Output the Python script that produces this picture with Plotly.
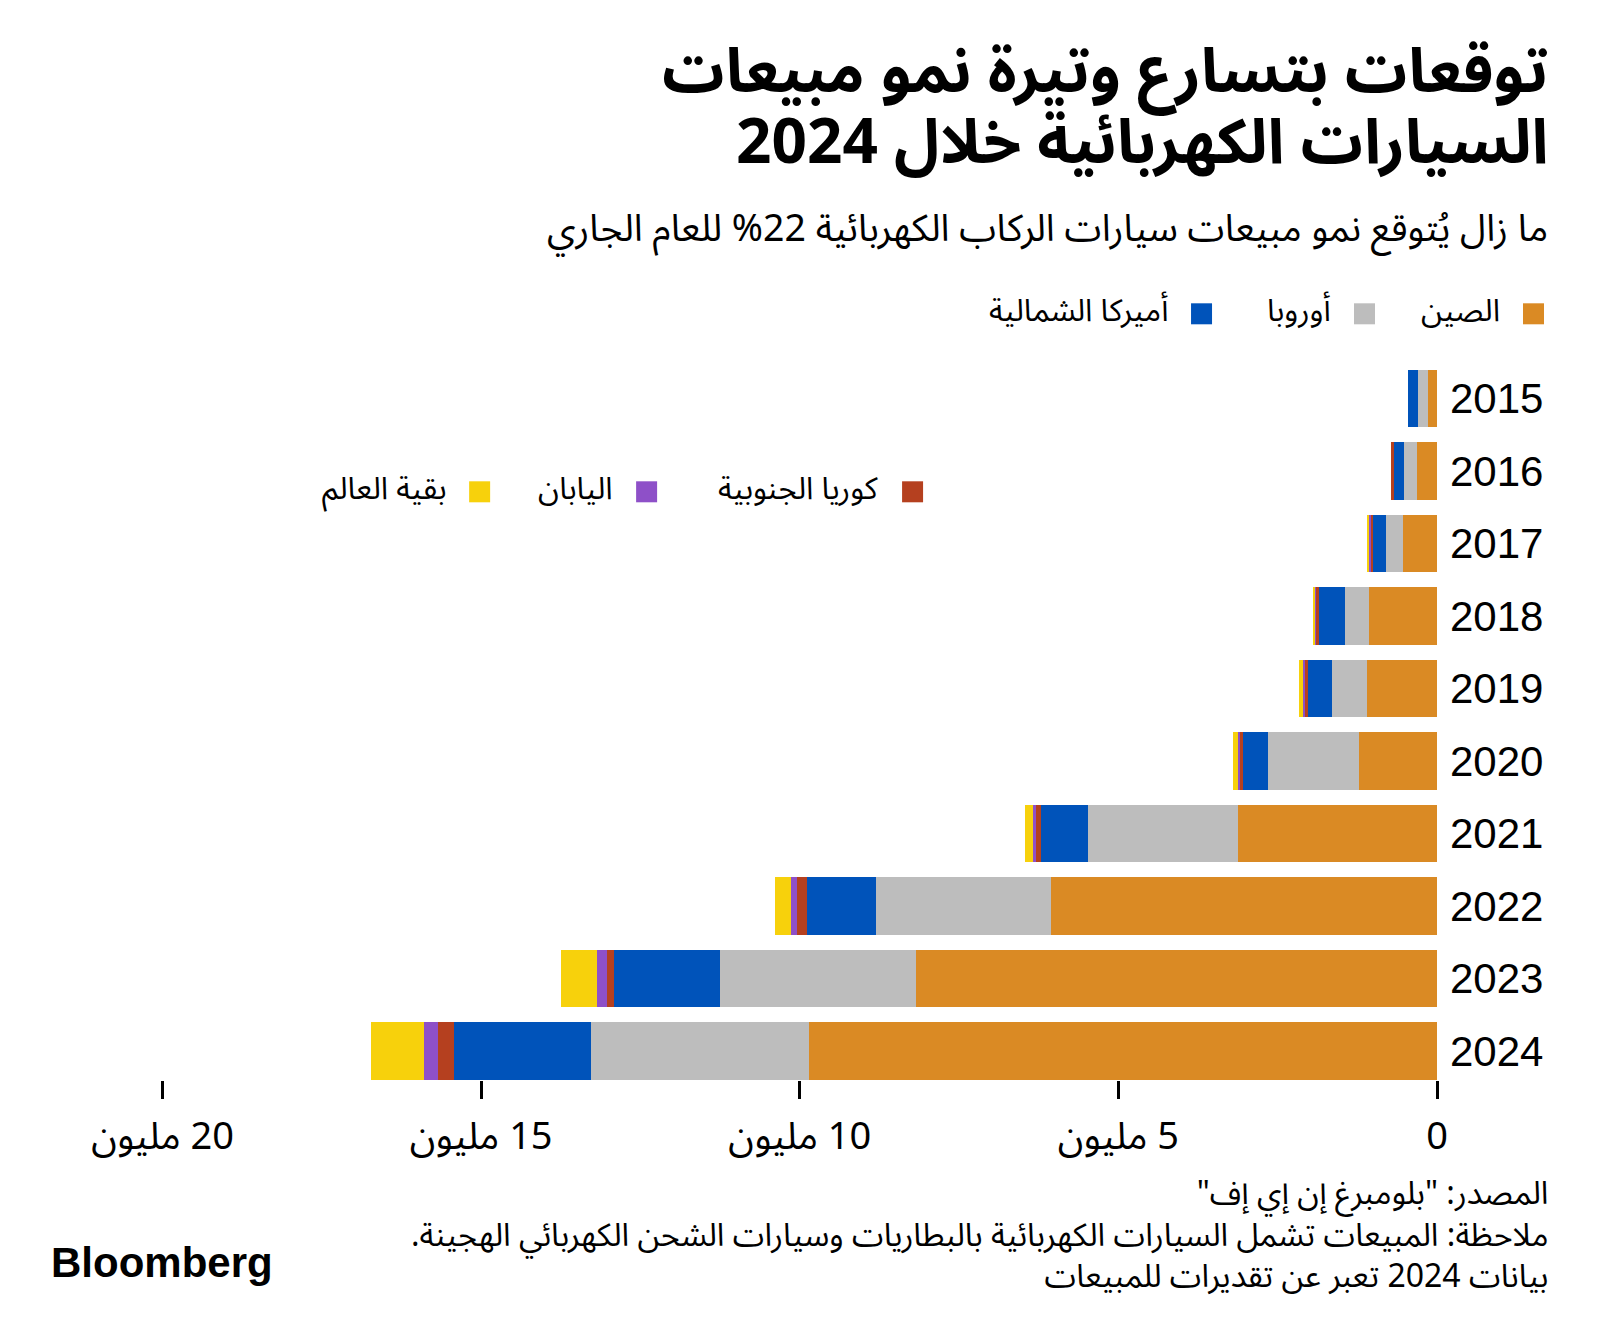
import plotly.graph_objects as go

# ---- data (millions of EV sales) ----
years = ['2015', '2016', '2017', '2018', '2019', '2020', '2021', '2022', '2023', '2024']
china = [0.14, 0.31, 0.53, 1.06, 1.10, 1.22, 3.12, 6.06, 8.18, 9.86]
europe = [0.16, 0.21, 0.27, 0.38, 0.55, 1.43, 2.35, 2.75, 3.08, 3.42]
north_america = [0.16, 0.17, 0.21, 0.41, 0.37, 0.40, 0.74, 1.08, 1.65, 2.15]
south_korea = [0.0, 0.03, 0.02, 0.05, 0.05, 0.04, 0.09, 0.15, 0.12, 0.24]
japan = [0.0, 0.0, 0.05, 0.03, 0.04, 0.04, 0.04, 0.10, 0.16, 0.22]
rest_of_world = [0.0, 0.0, 0.02, 0.02, 0.06, 0.07, 0.12, 0.25, 0.55, 0.84]

series_names = ['الصين', 'أوروبا', 'أميركا الشمالية', 'كوريا الجنوبية', 'اليابان', 'بقية العالم']
series_values = [china, europe, north_america, south_korea, japan, rest_of_world]
series_colors = ['#DA8A24', '#BDBDBD', '#0053BA', '#B5401F', '#8E50C8', '#F7D10C']

x_tickvals = [0, 5, 10, 15, 20]
x_ticktext = ['0', '5 مليون', '10 مليون', '15 مليون', '20 مليون']

title_lines = ['توقعات بتسارع وتيرة نمو مبيعات', 'السيارات الكهربائية خلال 2024']
subtitle = 'ما زال يُتوقع نمو مبيعات سيارات الركاب الكهربائية 22% للعام الجاري'
footer_lines = ['المصدر: "بلومبرغ إن إي إف"',
                'ملاحظة: المبيعات تشمل السيارات الكهربائية بالبطاريات وسيارات الشحن الكهربائي الهجينة.',
                'بيانات 2024 تعبر عن تقديرات للمبيعات']

RLE, PDF = '\u202B', '\u202C'


def rtl(s):
    return RLE + s + PDF


OFF = 8  # default body margin of the html page
W, H = 1600 - 2 * OFF, 1341 - 2 * OFF
R = 1437.5 - OFF
L = R - 21.5 * 63.73
T, B = 355.2 - OFF, 1080.2 - OFF
PW, PH = R - L, B - T


def px(x):  # page pixel -> paper
    return (x - OFF - L) / PW


def py(y):
    return (B - (y - OFF)) / PH


AR_FONT = 'Noto Sans Arabic, DejaVu Sans, sans-serif'
LAT_FONT = 'Liberation Sans, Arial, sans-serif'
TEXT_RIGHT = 1551

fig = go.Figure()
for name, vals, col in zip(series_names, series_values, series_colors):
    fig.add_trace(go.Bar(
        y=years, x=vals, name=name, orientation='h',
        marker=dict(color=col, line=dict(width=0)),
        width=0.79, showlegend=False, hoverinfo='skip'))

fig.update_layout(
    width=W, height=H, barmode='stack',
    paper_bgcolor='white', plot_bgcolor='white',
    margin=dict(l=L, r=W - R, t=T, b=H - B, autoexpand=False),
    xaxis=dict(range=[21.5, 0], tickvals=x_tickvals,
               ticktext=[rtl(t) for t in x_ticktext],
               ticks='outside', ticklen=18, tickwidth=3, tickcolor='#000',
               showgrid=False, zeroline=False, showline=False,
               ticklabelstandoff=4,
               tickfont=dict(family=AR_FONT, size=38, color='#000')),
    yaxis=dict(type='category', categoryorder='array', categoryarray=years,
               range=[9.4, -0.6], side='right', showgrid=False,
               zeroline=False, showline=False, ticks='',
               ticklabelstandoff=12,
               tickfont=dict(family=LAT_FONT, size=42, color='#000')),
)

ann = []
# title
for i, line in enumerate(title_lines):
    ann.append(dict(text='<b>' + rtl(line) + '</b>', x=px(TEXT_RIGHT), y=py(73 + i * 71),
                    xref='paper', yref='paper', xanchor='right', yanchor='middle',
                    showarrow=False, font=dict(family=AR_FONT, size=62, color='#000')))
# subtitle
ann.append(dict(text=rtl(subtitle), x=px(TEXT_RIGHT), y=py(229), xref='paper', yref='paper',
                xanchor='right', yanchor='middle', showarrow=False,
                font=dict(family=AR_FONT, size=37.5, color='#000')))

# legend (RTL: square on the right of label)
legend_pos = [  # (square_left, square_right, y_center) in page pixels
    (1523.5, 1544.5, 314), (1354.5, 1375.5, 314), (1191.5, 1212.5, 314),
    (902.5, 923.5, 492), (636.5, 657.5, 492), (469.5, 490.5, 492)]
shapes = []
for (x0, x1, yc), name, col in zip(legend_pos, series_names, series_colors):
    shapes.append(dict(type='rect', xref='paper', yref='paper',
                       x0=px(x0), x1=px(x1), y0=py(yc - 10.5), y1=py(yc + 10.5),
                       fillcolor=col, line=dict(width=0)))
    ann.append(dict(text=rtl(name), x=px(x0 - 21), y=py(yc - 3), xref='paper', yref='paper',
                    xanchor='right', yanchor='middle', showarrow=False,
                    font=dict(family=AR_FONT, size=31, color='#000')))

# footer
ann.append(dict(text='<br>'.join(rtl(s) for s in footer_lines), x=px(TEXT_RIGHT), y=py(1236),
                xref='paper', yref='paper', xanchor='right', yanchor='middle', align='right',
                showarrow=False, font=dict(family=AR_FONT, size=32, color='#000')))

ann.append(dict(text='<b>Bloomberg</b>', x=px(49), y=py(1263), xref='paper', yref='paper',
                xanchor='left', yanchor='middle', showarrow=False,
                font=dict(family=LAT_FONT, size=42, color='#000')))

fig.update_layout(annotations=ann, shapes=shapes)
fig.write_html('out.html', config={'displayModeBar': False})
